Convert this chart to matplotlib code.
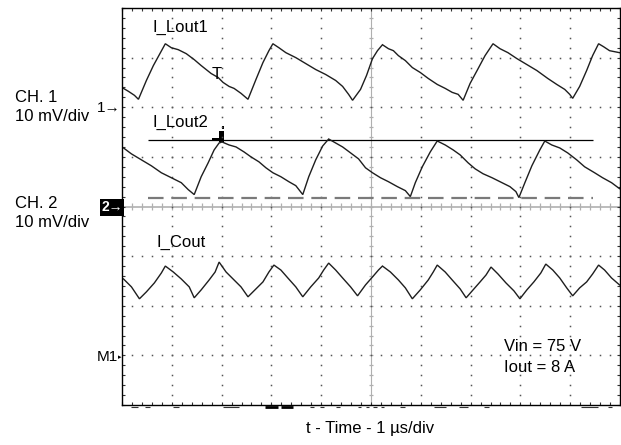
"""Scope capture: inductor ripple currents of a two-phase converter and the output-capacitor ripple."""

import matplotlib

matplotlib.use("Agg")
import matplotlib.pyplot as plt  # noqa: E402
import numpy as np  # noqa: E402
from matplotlib.patches import Rectangle  # noqa: E402

plt.rcParams["font.family"] = ["Liberation Sans", "DejaVu Sans"]

# traces: time [us], level [mV] above the channel's ground marker
LOUT1_T = [0.03, 0.13, 0.25, 0.33, 0.49, 0.63, 0.75, 0.87, 0.99, 1.13, 1.29, 1.45, 1.59, 1.79,
           1.93, 2.03, 2.15, 2.25, 2.39, 2.53, 2.69, 2.83, 2.95, 3.03, 3.15, 3.29, 3.49, 3.69,
           3.89, 4.09, 4.29, 4.43, 4.55, 4.63, 4.79, 4.91, 5.03, 5.13, 5.23, 5.35, 5.45, 5.55,
           5.69, 5.83, 5.99, 6.15, 6.33, 6.49, 6.63, 6.75, 6.85, 6.99, 7.13, 7.29, 7.45, 7.59,
           7.75, 7.93, 8.13, 8.33, 8.55, 8.73, 8.89, 8.99, 9.05, 9.19, 9.33, 9.45, 9.57, 9.67,
           9.79, 9.89, 9.99]
LOUT1_MV = [3.8, 3.2, 2.4, 1.6, 5.4, 8.4, 10.6, 12.8, 12.0, 11.6, 10.8, 9.6, 8.4, 6.8,
            6.0, 5.0, 4.2, 3.8, 2.8, 1.6, 5.6, 9.0, 11.4, 12.8, 12.0, 11.0, 10.0, 8.8,
            7.6, 6.6, 5.4, 4.2, 2.6, 1.4, 3.6, 6.4, 9.8, 11.4, 12.6, 11.8, 11.4, 10.4,
            9.4, 8.0, 7.0, 5.8, 4.6, 3.8, 3.0, 2.6, 1.4, 4.8, 7.4, 10.4, 12.8, 11.8,
            11.0, 9.8, 8.6, 7.4, 5.8, 4.6, 3.6, 2.6, 1.8, 4.2, 7.4, 10.4, 12.8, 12.2,
            11.4, 11.2, 11.0]

LOUT2_T = [0.03, 0.19, 0.39, 0.59, 0.79, 0.99, 1.19, 1.33, 1.45, 1.59, 1.73, 1.85, 1.95, 2.01,
           2.15, 2.29, 2.45, 2.59, 2.75, 2.89, 3.03, 3.19, 3.35, 3.49, 3.63, 3.75, 3.89, 4.03,
           4.15, 4.29, 4.43, 4.59, 4.75, 4.89, 5.03, 5.19, 5.35, 5.53, 5.69, 5.79, 5.89, 6.03,
           6.19, 6.33, 6.49, 6.65, 6.79, 6.95, 7.09, 7.25, 7.43, 7.59, 7.79, 7.91, 7.97, 8.09,
           8.23, 8.39, 8.49, 8.63, 8.79, 8.95, 9.13, 9.29, 9.49, 9.65, 9.83, 9.99]
LOUT2_MV = [11.8, 10.6, 9.4, 8.2, 6.8, 5.8, 4.8, 3.4, 2.4, 6.0, 8.8, 11.4, 12.8, 13.0,
            12.4, 12.0, 11.0, 10.0, 9.0, 7.8, 6.8, 6.0, 5.0, 4.2, 2.4, 6.0, 9.4, 12.2,
            13.6, 12.8, 12.0, 10.8, 9.6, 7.8, 6.8, 5.8, 5.0, 4.0, 3.2, 2.0, 4.8, 8.0,
            11.0, 13.2, 12.4, 11.4, 10.4, 8.8, 7.6, 6.6, 5.8, 5.0, 4.0, 3.0, 1.8, 4.8,
            8.2, 11.4, 13.2, 12.4, 11.8, 10.8, 9.4, 8.0, 6.8, 5.8, 4.8, 3.6]

COUT_T = [0.03, 0.19, 0.35, 0.49, 0.65, 0.79, 0.87, 1.03, 1.19, 1.35, 1.45, 1.59, 1.75, 1.87,
          1.95, 2.09, 2.23, 2.39, 2.53, 2.69, 2.83, 2.95, 3.05, 3.19, 3.33, 3.49, 3.63, 3.79,
          3.95, 4.05, 4.15, 4.29, 4.43, 4.59, 4.73, 4.89, 5.03, 5.15, 5.23, 5.39, 5.55, 5.69,
          5.83, 5.99, 6.15, 6.25, 6.33, 6.49, 6.63, 6.79, 6.91, 7.05, 7.19, 7.31, 7.41, 7.55,
          7.71, 7.87, 7.99, 8.13, 8.27, 8.41, 8.51, 8.65, 8.79, 8.93, 9.05, 9.19, 9.33, 9.45,
          9.57, 9.69, 9.83, 9.99]
COUT_MV = [15.4, 13.8, 11.4, 12.8, 14.6, 16.6, 18.0, 16.8, 15.4, 13.8, 11.6, 13.2, 15.2, 16.8,
           18.8, 16.8, 15.4, 13.8, 11.8, 13.4, 14.8, 16.8, 18.2, 17.2, 15.6, 13.8, 11.8, 13.8,
           15.6, 17.2, 18.6, 17.2, 15.6, 13.8, 12.0, 14.2, 15.8, 17.2, 18.0, 16.8, 15.2, 13.6,
           11.4, 13.2, 15.2, 16.8, 18.2, 16.8, 15.2, 13.4, 11.6, 13.2, 14.8, 16.2, 17.8, 16.4,
           14.6, 13.0, 11.4, 13.2, 14.8, 16.6, 18.4, 17.2, 15.6, 13.6, 12.0, 13.6, 14.8, 16.4,
           18.2, 17.2, 15.6, 14.2]

MV_PER_DIV = 10.0
GND_DIV = {"CH1": 6.0, "CH2": 4.0, "M1": 1.0}  # ground markers, divisions above bottom
CURSOR_MV = (13.5, 1.7)  # on CH2: peak (solid) and valley (dashed)
CURSOR_T = (0.53, 9.45)
TRIG_T, TRIG_MV = 1.91, 6.7

# clipped scope read-out under the graticule, (start, end) in us
READOUT_BITS = [(0.19, 0.33), (0.47, 0.57), (1.03, 1.15), (2.03, 2.35), (3.77, 3.85),
                (3.97, 4.05), (4.29, 4.37), (4.73, 4.79), (4.89, 4.95), (5.05, 5.13),
                (5.21, 5.27), (5.59, 5.69), (6.27, 6.51), (6.77, 6.95), (7.27, 7.37),
                (9.21, 9.55), (9.75, 9.83)]
READOUT_BOLD = [(2.87, 3.13), (3.19, 3.43)]

W, H = 621, 445


def fx(px):
    return px / W


def fy(py):
    return 1 - py / H


fig = plt.figure(figsize=(W / 100, H / 100), dpi=100)
ax = fig.add_axes([fx(122), fy(405), 498 / W, 397 / H])
ax.set_xlim(0, 10)
ax.set_ylim(0, 8)

# graticule: dotted divisions, ticked centre cross, ticked border
fine_x = np.arange(0, 10.001, 0.2)
fine_y = np.arange(0, 8.001, 0.2)
for gx in range(1, 10):
    if gx != 5:
        ax.plot(np.full_like(fine_y, gx), fine_y, ls="none", marker="s", ms=1.1,
                mew=0, color="#555555")
for gy in range(1, 8):
    if gy != 4:
        ax.plot(fine_x, np.full_like(fine_x, gy), ls="none", marker="s", ms=1.1,
                mew=0, color="#555555")
ax.axhline(4, color="#b0b0b0", lw=1.2, zorder=1)
ax.axvline(5, color="#b0b0b0", lw=0.8, zorder=1)
ax.vlines(fine_x, 4 - 0.07, 4 + 0.07, color="#b0b0b0", lw=0.9, zorder=1)
ax.hlines(fine_y, 5 - 0.05, 5 + 0.05, color="#b0b0b0", lw=0.9, zorder=1)

ax.set_xticks(fine_x)
ax.set_yticks(fine_y)
ax.tick_params(direction="in", length=2.2, width=0.8, color="#333333", top=True, right=True,
               labelbottom=False, labelleft=False)
for sp in ax.spines.values():
    sp.set_linewidth(1.0)
    sp.set_color("black")

# cursors on CH2
ax.hlines(GND_DIV["CH2"] + CURSOR_MV[0] / MV_PER_DIV, *CURSOR_T, color="black", lw=0.9)
ax.hlines(GND_DIV["CH2"] + CURSOR_MV[1] / MV_PER_DIV, *CURSOR_T, color="#7a7a7a", lw=1.6,
          linestyles=(0, (7, 3.5)))
ax.add_patch(Rectangle((1.81, 5.31), 0.14, 0.08, color="black", lw=0))
ax.add_patch(Rectangle((1.95, 5.30), 0.09, 0.23, color="black", lw=0))
ax.add_patch(Rectangle((2.00, 5.57), 0.04, 0.05, color="black", lw=0))

# traces
trace_kw = dict(color="#1e1e1e", lw=1.0, solid_joinstyle="miter")
ax.plot(LOUT1_T, GND_DIV["CH1"] + np.array(LOUT1_MV) / MV_PER_DIV, **trace_kw)
ax.plot(LOUT2_T, GND_DIV["CH2"] + np.array(LOUT2_MV) / MV_PER_DIV, **trace_kw)
ax.plot(COUT_T, GND_DIV["M1"] + np.array(COUT_MV) / MV_PER_DIV, **trace_kw)
ax.text(TRIG_T, GND_DIV["CH1"] + TRIG_MV / MV_PER_DIV, "T", fontsize=12, ha="center",
        va="center")

# clipped read-out fragments below the graticule
for t0, t1 in READOUT_BITS:
    ax.plot([t0, t1], [-0.045, -0.045], color="#333333", lw=0.8, clip_on=False,
            solid_capstyle="butt")
for t0, t1 in READOUT_BOLD:
    ax.plot([t0, t1], [-0.04, -0.04], color="black", lw=2.0, clip_on=False,
            solid_capstyle="butt")

# trace names and operating point
lab = dict(fontsize=12, va="center", ha="left")
fig.text(fx(152), fy(27.5), "I_Lout1", **lab)
fig.text(fx(152), fy(122), "I_Lout2", **lab)
fig.text(fx(156), fy(242), "I_Cout", **lab)
fig.text(fx(504), fy(346.5), "Vin = 75 V", **lab)
fig.text(fx(504), fy(368), "Iout = 8 A", **lab)

fig.text(fx(15), fy(97), "CH. 1", **lab)
fig.text(fx(15), fy(117), "10 mV/div", **lab)
fig.text(fx(15), fy(203), "CH. 2", **lab)
fig.text(fx(15), fy(222), "10 mV/div", **lab)

# ground markers at the left edge of the graticule
fig.text(fx(121), fy(107.5), "1\u2192", fontsize=11, ha="right", va="center")
fig.text(fx(112), fy(207.5), "2\u2192", fontsize=10, ha="center", va="center", color="white",
         weight="bold", bbox=dict(boxstyle="square,pad=0.08", fc="black", ec="none"))
fig.text(fx(118), fy(357), "M1", fontsize=11, ha="right", va="center")
fig.text(fx(118), fy(357), "\u25b8", fontsize=5, ha="left", va="center",
         family=["DejaVu Sans"])

fig.text(fx(370), fy(428), "t - Time - 1 \u00b5s/div", fontsize=12, ha="center", va="center")

fig.savefig("out.png", dpi=100)
